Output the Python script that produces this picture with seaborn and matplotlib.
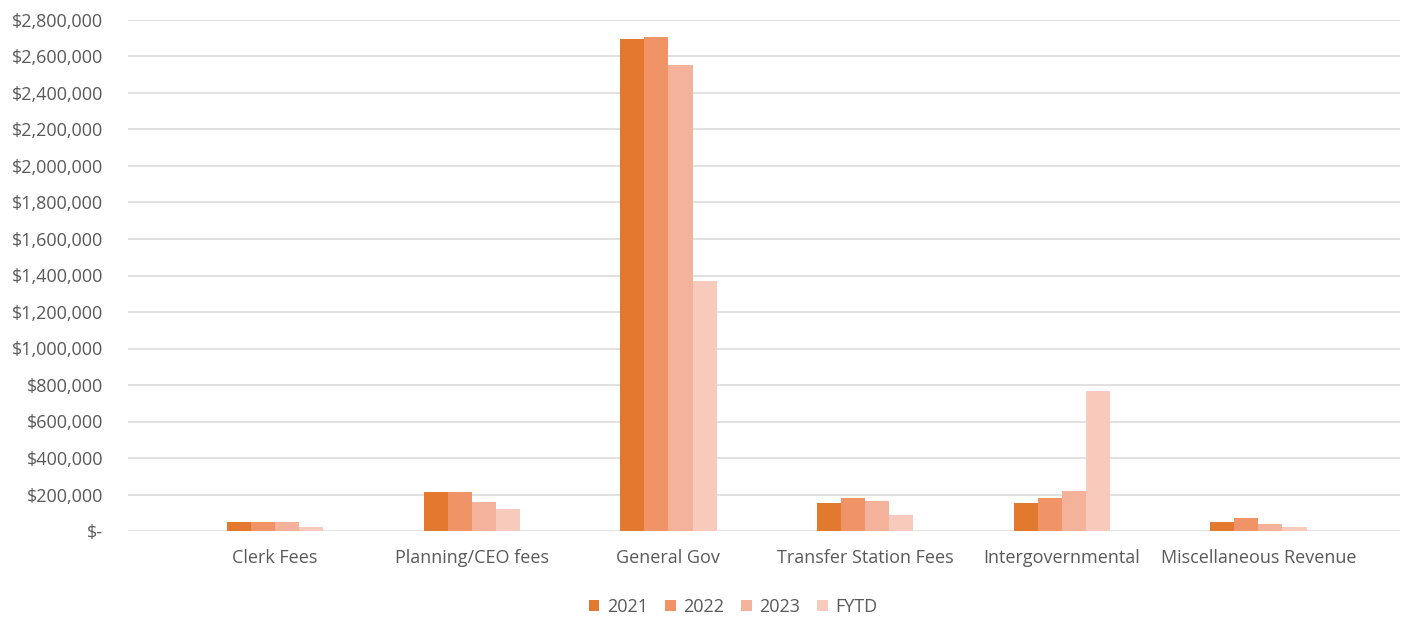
import matplotlib
matplotlib.use("Agg")
import matplotlib.pyplot as plt
import seaborn as sns
import pandas as pd
from matplotlib.ticker import FuncFormatter, MultipleLocator

categories = ["Clerk Fees", "Planning/CEO fees", "General Gov",
              "Transfer Station Fees", "Intergovernmental", "Miscellaneous Revenue"]
series = ["2021", "2022", "2023", "FYTD"]
v2021 = [52000, 214000, 2696000, 153000, 153000, 48000]
v2022 = [52000, 214000, 2709000, 183000, 183000, 70000]
v2023 = [50000, 157000, 2553000, 163000, 221000, 38000]
vfytd = [22000, 119000, 1371000, 86000, 767000, 20000]
colors = ["#E2792E", "#F09366", "#F4B29B", "#F7CABC"]

rows = []
for s, vals in zip(series, [v2021, v2022, v2023, vfytd]):
    for c, v in zip(categories, vals):
        rows.append({"cat": c, "series": s, "value": v})
df = pd.DataFrame(rows)

sns.set_theme(style="white")
plt.rcParams["font.family"] = ["Open Sans", "DejaVu Sans"]

fig = plt.figure(figsize=(14.13, 6.19), dpi=100)
ax = fig.add_axes([128/1413, 88/619, (1400-128)/1413, (531-20)/619])

sns.barplot(data=df, x="cat", y="value", hue="series", order=categories,
            hue_order=series, palette=colors, width=0.49, gap=0,
            linewidth=0, saturation=1, ax=ax, legend=True)

ax.set_ylim(0, 2800000)
ax.set_xlim(-0.748, 5.72)
ax.yaxis.set_major_locator(MultipleLocator(200000))
ax.yaxis.set_major_formatter(FuncFormatter(lambda v, p: "$-" if v == 0 else f"${v:,.0f}"))
ax.grid(axis="y", color="#D9D9D9", linewidth=1.1)
ax.set_axisbelow(True)
for sp in ax.spines.values():
    sp.set_visible(False)
ax.set_xlabel("")
ax.set_ylabel("")
ax.tick_params(axis="both", length=0, colors="#595959", labelsize=13)
ax.tick_params(axis="x", pad=13)
ax.tick_params(axis="y", pad=18)

handles, labels = ax.get_legend_handles_labels()
ax.get_legend().remove()
fig.legend(handles, labels, loc="center", bbox_to_anchor=(733/1413, 12/619),
           ncol=4, frameon=False, fontsize=13, handlelength=0.6, handleheight=0.6,
           handletextpad=0.4, columnspacing=0.95, labelcolor="#595959")

fig.savefig("out.png", dpi=100)
